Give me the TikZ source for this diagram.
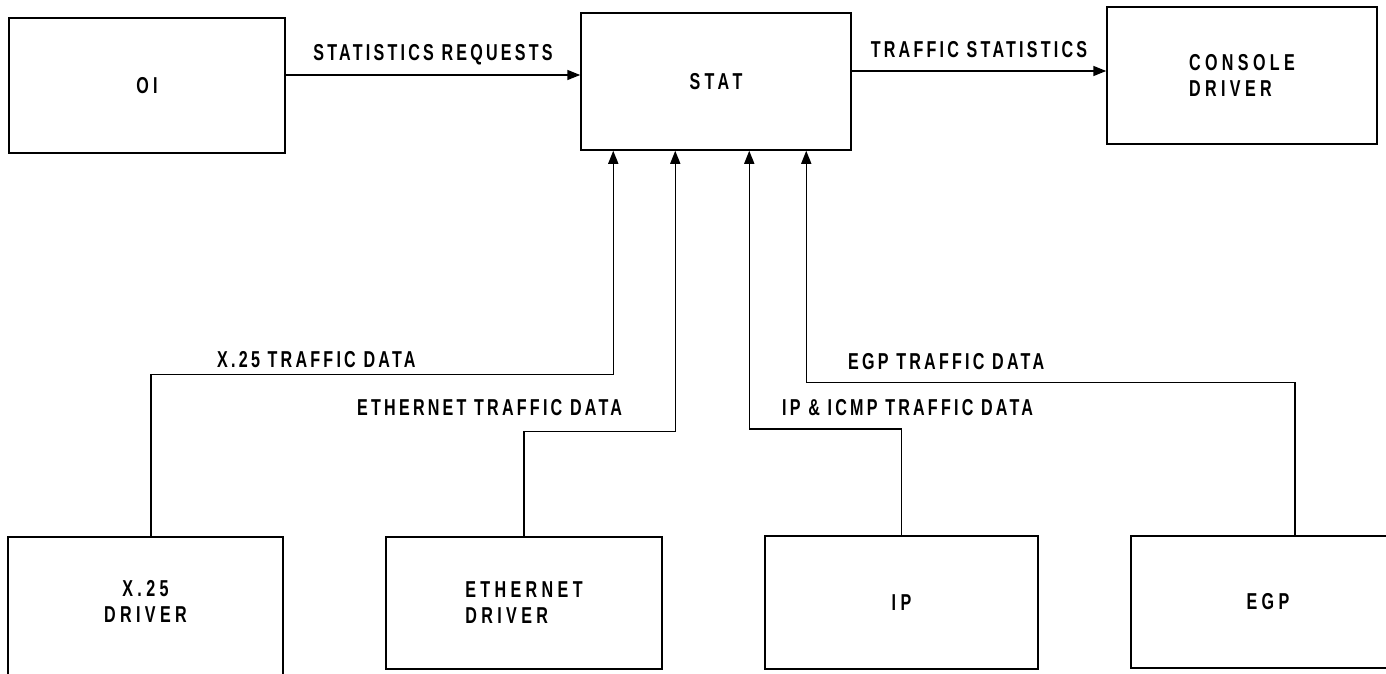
\documentclass[tikz,border=0pt]{standalone}
\usepackage{fontspec}
\newfontfamily\diafont{Liberation Sans}[FakeStretch=0.7,LetterSpace=14,UprightFont=*-Bold]
\newfontfamily\boxfont{Liberation Sans}[FakeStretch=0.7,LetterSpace=19,UprightFont=*-Bold]
\usetikzlibrary{arrows.meta}

\begin{document}
\begin{tikzpicture}[x=1pt,y=-1pt,
  box/.style={draw,line width=1.5pt,inner sep=0pt,font=\boxfont\fontsize{23}{26}\selectfont},
  flow/.style={line width=1.5pt,-{Triangle[length=13pt,width=10pt]}},
  lbl/.style={inner sep=0pt,font=\diafont\fontsize{23}{26}\selectfont}]
\useasboundingbox (0,0) rectangle (1386,674);
\clip (0,0) rectangle (1386,674);
\node [box,minimum width=276pt,minimum height=135pt] (oi) at (147,85.5) {OI};
\node [box,minimum width=270pt,minimum height=137pt] (stat) at (716,81.5) {STAT};
\node [box,minimum width=270pt,minimum height=137pt,align=left] (console) at (1242,75.5) {CONSOLE\\DRIVER};
\node [box,minimum width=275pt,minimum height=139pt,align=center,text depth=10pt] (xdrv) at (145.5,606.5) {X.25\\DRIVER};
\node [box,minimum width=276pt,minimum height=132pt,align=left] (ethdrv) at (524,603) {ETHERNET\\DRIVER};
\node [box,minimum width=273pt,minimum height=133pt] (ip) at (901.5,602.5) {IP};
\node [box,minimum width=274pt,minimum height=132pt] (egp) at (1268,602) {EGP};
\coordinate (req) at ([yshift=10.5pt]oi.east);
\coordinate (trf) at ([yshift=4.5pt]console.west);
\coordinate (inx) at ([xshift=33pt]stat.south west);
\coordinate (ineth) at ([xshift=95pt]stat.south west);
\coordinate (inip) at ([xshift=169pt]stat.south west);
\coordinate (inegp) at ([xshift=226pt]stat.south west);
\draw [flow] (req) -- (req -| stat.west) node [lbl,midway,above=9pt] {STATISTICS REQUESTS};
\draw [flow] (trf -| stat.east) -- (trf) node [lbl,midway,above=13pt] {TRAFFIC STATISTICS};
\draw [flow] ([xshift=5.5pt]xdrv.north) -- ++(0,-162) -| (inx);
\draw [flow] (ethdrv.north) -- ++(0,-105) -| (ineth);
\draw [flow] (ip.north) -- ++(0,-106.5) -| (inip);
\draw [flow] ([xshift=27pt]egp.north) -- ++(0,-153) -| (inegp);
\node [lbl,anchor=base west] (x25lbl) at (217,367) {X.25 TRAFFIC DATA};
\node [lbl,anchor=base west] (ethlbl) at (357,415) {ETHERNET TRAFFIC DATA};
\node [lbl,anchor=base west] (egplbl) at (848,369) {EGP TRAFFIC DATA};
\node [lbl,anchor=base west] (iplbl) at (782,415) {IP \& ICMP TRAFFIC DATA};
\end{tikzpicture}
\end{document}
